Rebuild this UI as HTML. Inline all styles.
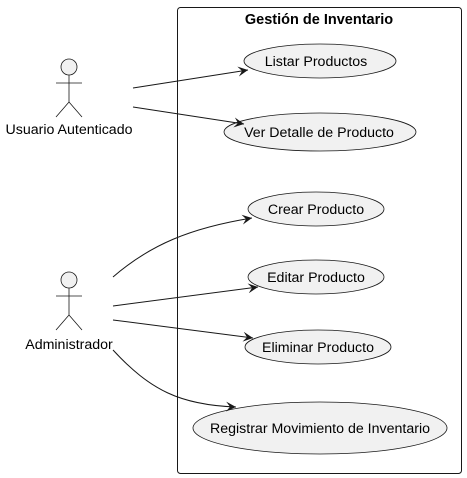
<!DOCTYPE html><html><head><meta charset="utf-8"><style>body{margin:0;background:#fff}svg{display:block}</style></head><body>
<svg width="467" height="478" xmlns="http://www.w3.org/2000/svg" font-family="Liberation Sans, sans-serif">
<defs><marker id="a" markerWidth="12" markerHeight="10" refX="10" refY="5" orient="auto" markerUnits="userSpaceOnUse"><path d="M0,0 L10,5 L0,10 L4,5 Z" fill="#181818"/></marker></defs>
<rect x="177.5" y="7.5" width="284" height="466" rx="3" fill="none" stroke="#181818"/>
<text x="319" y="24" text-anchor="middle" font-size="14.5" font-weight="bold">Gestión de Inventario</text>
<g fill="#f1f1f1" stroke="#181818" stroke-width="0.8">
<ellipse cx="320" cy="61" rx="76" ry="17"/>
<ellipse cx="320" cy="132" rx="96" ry="19"/>
<ellipse cx="316" cy="209" rx="68" ry="17"/>
<ellipse cx="316" cy="277" rx="68" ry="17"/>
<ellipse cx="318" cy="347" rx="73" ry="17"/>
<ellipse cx="320" cy="428" rx="127" ry="26"/>
</g>
<g font-size="14.2" text-anchor="middle" fill="#000">
<text x="316" y="66">Listar Productos</text>
<text x="319" y="137">Ver Detalle de Producto</text>
<text x="316" y="214">Crear Producto</text>
<text x="316" y="282">Editar Producto</text>
<text x="318" y="352">Eliminar Producto</text>
<text x="320" y="433">Registrar Movimiento de Inventario</text>
<text x="69" y="134">Usuario Autenticado</text>
<text x="69" y="349">Administrador</text>
</g>
<g fill="#f1f1f1" stroke="#181818" stroke-width="0.8">
<circle cx="69" cy="67" r="8"/>
<path d="M69 75 V102 M56 83 H82 M69 102 L56 117 M69 102 L82 117" fill="none"/>
<circle cx="69" cy="280" r="8"/>
<path d="M69 288 V315 M56 296 H82 M69 315 L56 330 M69 315 L82 330" fill="none"/>
</g>
<g fill="none" stroke="#181818" stroke-width="1" marker-end="url(#a)">
<path d="M133 88 L248 70"/>
<path d="M133 107 L244 124"/>
<path d="M113 277 C150 245 190 228 252 218"/>
<path d="M113 306 L258 287"/>
<path d="M113 320 L253 338"/>
<path d="M113 350 C150 390 180 405 236 407"/>
</g>
</svg></body></html>
